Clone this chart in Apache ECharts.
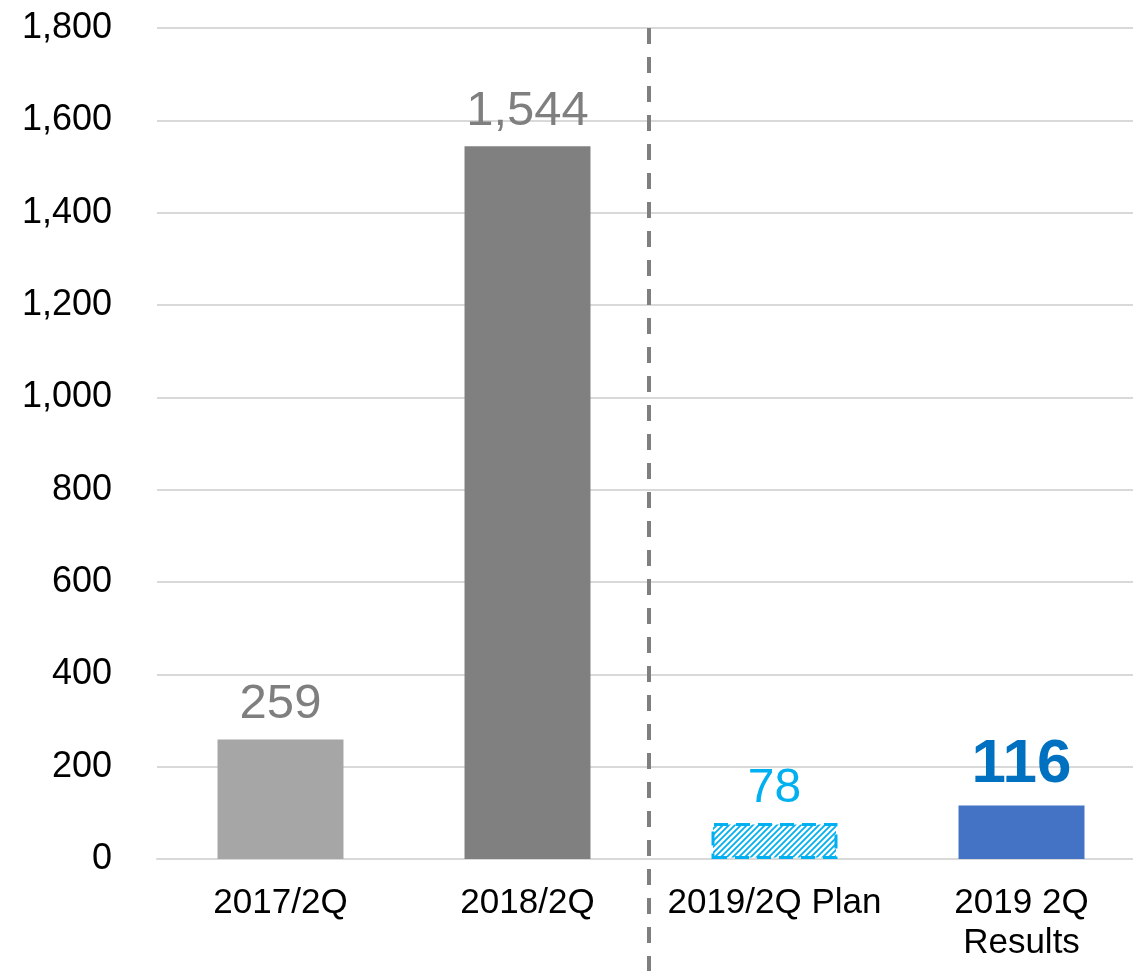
<!DOCTYPE html>
<html>
<head>
<meta charset="utf-8">
<script src="https://cdn.jsdelivr.net/npm/echarts@6/dist/echarts.min.js"></script>
<style>
  html, body { margin: 0; padding: 0; background: #fff; overflow: hidden; }
  #main { width: 1145px; height: 971px; }
</style>
</head>
<body>
<div id="main"></div>
<script>
// data
var categories = ['2017/2Q', '2018/2Q', '2019/2Q Plan', '2019 2Q\nResults']
var values = [259, 1544, 78, 116]
var yTicks = [0, 200, 400, 600, 800, 1000, 1200, 1400, 1600, 1800]

// hatch pattern for the plan bar
function hatch () {
  var c = document.createElement('canvas')
  c.width = 6
  c.height = 6
  var ctx = c.getContext('2d')
  ctx.strokeStyle = '#00B0F0'
  ctx.lineWidth = 1.8
  ctx.beginPath()
  ctx.moveTo(0, 6); ctx.lineTo(6, 0)
  ctx.moveTo(-3, 3); ctx.lineTo(3, -3)
  ctx.moveTo(3, 9); ctx.lineTo(9, 3)
  ctx.stroke()
  return c
}

var font = 'Liberation Sans, Arial, sans-serif'
var fmt = function (v) { return Number(v).toLocaleString('en-US') }
var styles = [
  { color: '#A6A6A6', label: { color: '#7F7F7F', fontSize: 49 } },
  { color: '#808080', label: { color: '#7F7F7F', fontSize: 49 } },
  { color: { image: hatch(), repeat: 'repeat' }, borderColor: '#00B0F0', borderWidth: 3, borderType: [14, 8],
    label: { color: '#00B0F0', fontSize: 48 } },
  { color: '#4472C4', label: { color: '#0070C0', fontSize: 62, fontWeight: 'bold' } }
]

var barData = values.map(function (v, i) {
  var s = styles[i]
  return {
    value: v,
    itemStyle: { color: s.color, borderColor: s.borderColor, borderWidth: s.borderWidth || 0, borderType: s.borderType },
    label: Object.assign({
      show: true, position: 'top', distance: 10, fontFamily: font,
      formatter: function (p) { return fmt(p.value) }
    }, s.label)
  }
})

var W = 1145, H = 971
var gridLeft = 157, gridRight = 0, gridTop = 28
// separator sits on the boundary between the 2nd and 3rd category bands
var sepX = gridLeft + (W - gridLeft - gridRight) / 2 - 2

var chart = echarts.init(document.getElementById('main'))
var option = {
  animation: false,
  grid: { left: gridLeft, right: gridRight, top: gridTop, bottom: 112 },
  xAxis: {
    type: 'category',
    data: categories,
    axisLine: { lineStyle: { color: '#D9D9D9', width: 2 } },
    axisTick: { show: false },
    axisLabel: { interval: 0, color: '#000', fontSize: 35, fontFamily: font, margin: 24, lineHeight: 40 }
  },
  yAxis: {
    type: 'value',
    min: yTicks[0],
    max: yTicks[yTicks.length - 1],
    interval: 200,
    axisLine: { show: false },
    axisTick: { show: false },
    splitLine: { lineStyle: { color: '#D9D9D9', width: 2 } },
    axisLabel: { color: '#000', fontSize: 36, fontFamily: font, margin: 45, formatter: fmt }
  },
  graphic: [{
    type: 'line',
    z: 100,
    shape: { x1: sepX, y1: gridTop, x2: sepX, y2: H },
    style: { stroke: '#7F7F7F', lineWidth: 4, lineDash: [16, 13] }
  }],
  series: [{
    type: 'bar',
    barWidth: '51%',
    data: barData
  }]
}
chart.setOption(option)
</script>
</body>
</html>
